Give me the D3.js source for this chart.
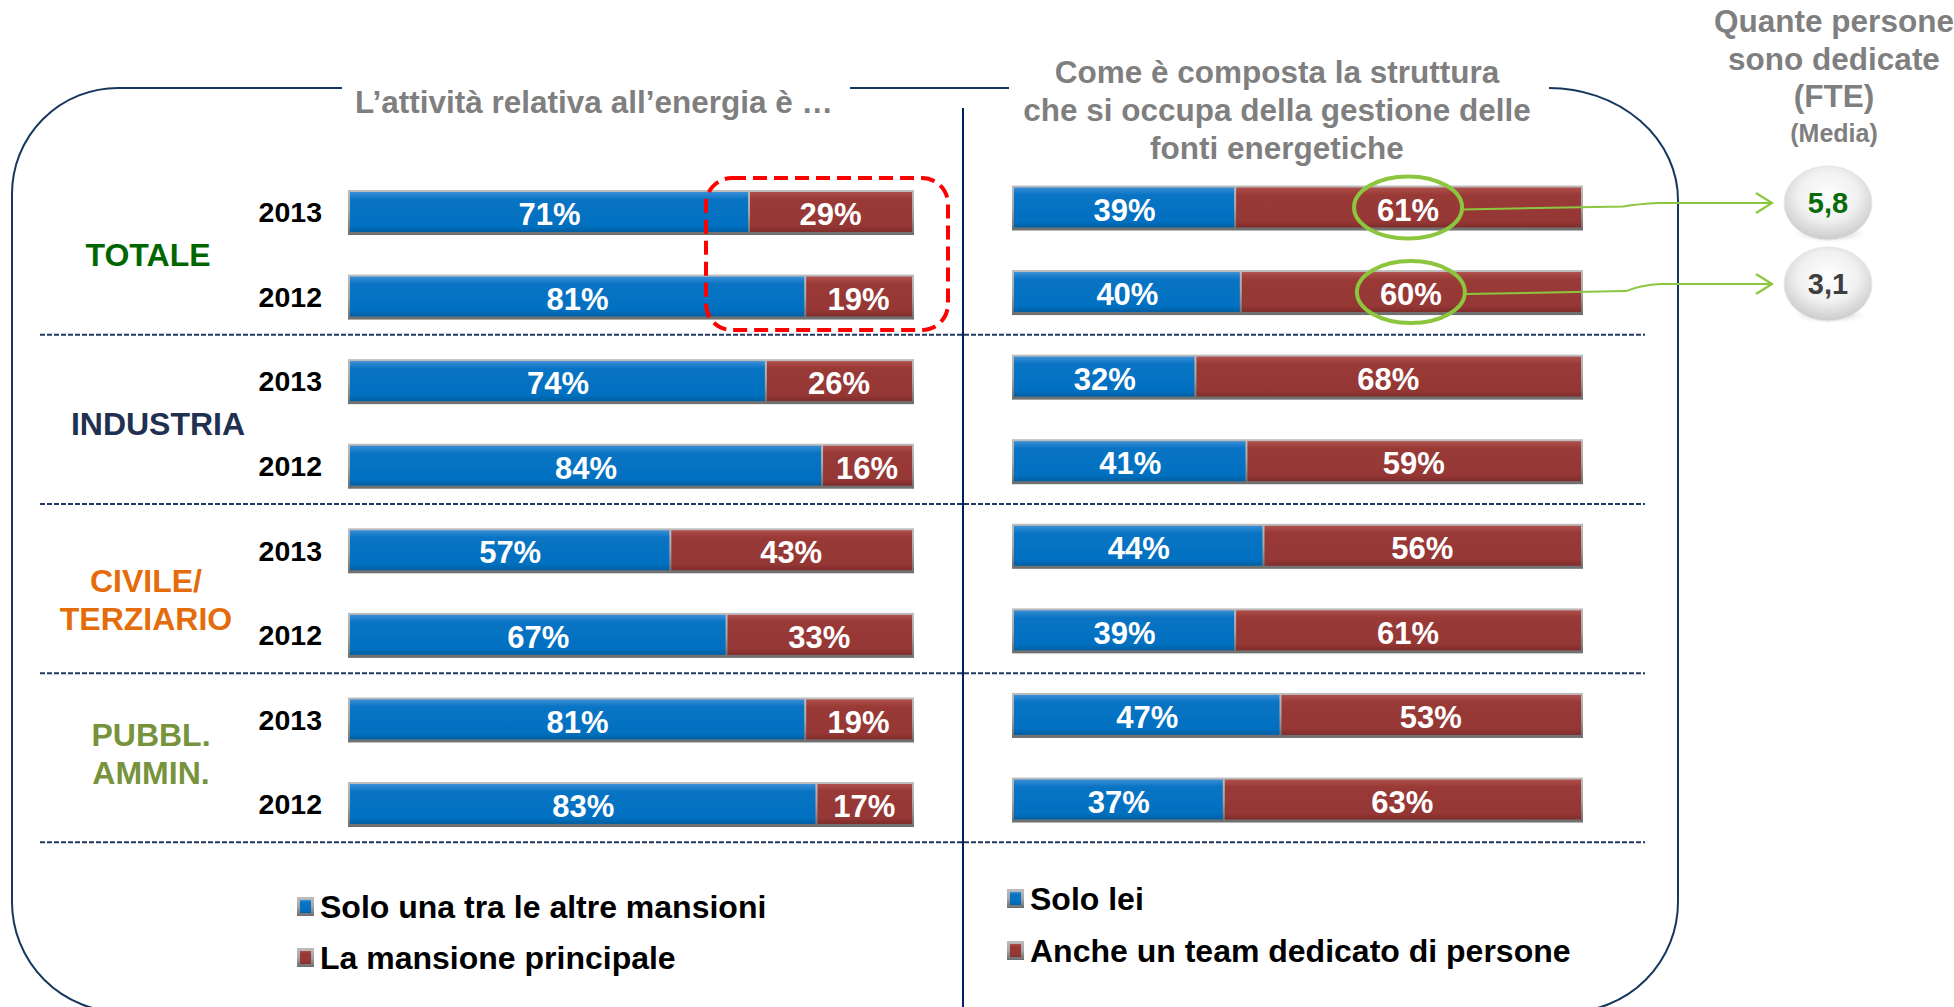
<!DOCTYPE html>
<html><head><meta charset="utf-8">
<script src="https://cdn.jsdelivr.net/npm/d3@7/dist/d3.min.js"></script>
<style>
html,body{margin:0;padding:0;background:#fff;}
svg{display:block;font-family:"Liberation Sans",Arial,sans-serif;font-weight:bold;}
</style></head>
<body>
<svg id="c" width="1954" height="1007"></svg>
<script>
// ---------- data ----------
const groups = ["TOTALE", "INDUSTRIA", "CIVILE/|TERZIARIO", "PUBBL.|AMMIN."];
const groupColors = ["#006600", "#1f3050", "#e46c0a", "#77933c"];
const years = ["2013", "2012"];
const leftBlue  = [71, 81, 74, 84, 57, 67, 81, 83];
const leftRed   = [29, 19, 26, 16, 43, 33, 19, 17];
const rightBlue = [39, 40, 32, 41, 44, 39, 47, 37];
const rightRed  = [61, 60, 68, 59, 56, 61, 53, 63];
const fteValues = ["5,8", "3,1"];
const fteColors = ["#0a6b0a", "#3f3f3f"];
const leftLegend  = ["Solo una tra le altre mansioni", "La mansione principale"];
const rightLegend = ["Solo lei", "Anche un team dedicato di persone"];
const leftTitle = "L\u2019attivit\u00e0 relativa all\u2019energia \u00e8 \u2026";
const rightTitle = ["Come \u00e8 composta la struttura", "che si occupa della gestione delle", "fonti energetiche"];
const fteTitle = ["Quante persone", "sono dedicate", "(FTE)"];
const fteSub = "(Media)";

// ---------- setup ----------
const svg = d3.select("#c");
const defs = svg.append("defs");
function grad(id, stops) {
  const g = defs.append("linearGradient").attr("id", id).attr("x1", 0).attr("y1", 0).attr("x2", 0).attr("y2", 1);
  stops.forEach(s => g.append("stop").attr("offset", s[0]).attr("stop-color", s[1]));
}
grad("gBlue", [[0, "#3a8fd6"], [0.18, "#0a74c4"], [0.85, "#0070c0"], [1, "#005fa3"]]);
grad("gRed", [[0, "#b0504d"], [0.18, "#993a37"], [0.85, "#953735"], [1, "#7e2d2b"]]);
grad("gBorder", [[0, "#bdbdbd"], [0.5, "#a6a6a6"], [1, "#6d6d6d"]]);
const rg = defs.append("radialGradient").attr("id", "gBall").attr("cx", "50%").attr("cy", "40%").attr("r", "62%");
rg.append("stop").attr("offset", 0).attr("stop-color", "#ffffff");
rg.append("stop").attr("offset", 0.55).attr("stop-color", "#f0f0f0");
rg.append("stop").attr("offset", 1).attr("stop-color", "#c8c8c8");
const sh = defs.append("radialGradient").attr("id", "gShadow");
sh.append("stop").attr("offset", 0).attr("stop-color", "#8a8a8a").attr("stop-opacity", 0.9);
sh.append("stop").attr("offset", 1).attr("stop-color", "#ffffff").attr("stop-opacity", 0);
const mk = defs.append("marker").attr("id", "arr").attr("viewBox", "0 0 24 24").attr("refX", 21).attr("refY", 12)
  .attr("markerWidth", 24).attr("markerHeight", 24).attr("markerUnits", "userSpaceOnUse").attr("orient", "auto");
mk.append("path").attr("d", "M5,2 L21,12 L5,22").attr("fill", "none").attr("stroke", "#8cc63f").attr("stroke-width", 2.2);

const rowKeys = d3.range(8).map(i => groups[Math.floor(i / 2)] + "-" + years[i % 2]);
const y = d3.scaleBand().domain(rowKeys).range([169.7, 846.3]);
const xL = d3.scaleLinear().domain([0, 100]).range([350, 912]);
const xR = d3.scaleLinear().domain([0, 100]).range([1014, 1581]);
const barH = 40;
const rightShift = -4.5;

// ---------- frame ----------
const navy = "#17375e";
const frame = svg.append("g").attr("fill", "none").attr("stroke", navy).attr("stroke-width", 2);
frame.append("path").attr("d", "M342,88 L118,88 A106,106 0 0 0 12,194 L12,902 A110,110 0 0 0 122,1012 L1568,1012 A110,110 0 0 0 1678,902 L1678,200 A129,112 0 0 0 1549,88 L1549,88");
frame.append("path").attr("d", "M850,88 L1009,88");
svg.append("line").attr("x1", 963).attr("x2", 963).attr("y1", 108).attr("y2", 1007)
  .attr("stroke", "#002060").attr("stroke-width", 2);

// dashed separators
const sepYs = [1, 3, 5, 7].map(i => y(rowKeys[i]) + y.bandwidth() - 4);
svg.selectAll("line.sep").data(sepYs).enter().append("line").attr("class", "sep")
  .attr("x1", 40).attr("x2", 1645).attr("y1", d => d).attr("y2", d => d)
  .attr("stroke", "#1f3864").attr("stroke-width", 2).attr("stroke-dasharray", "5,2");

// ---------- titles ----------
svg.append("text").attr("x", 594).attr("y", 113).attr("text-anchor", "middle")
  .attr("font-size", 31.5).attr("fill", "#7f7f7f").text(leftTitle);
svg.selectAll("text.rt").data(rightTitle).enter().append("text").attr("class", "rt")
  .attr("x", 1277).attr("y", (d, i) => 83 + i * 38).attr("text-anchor", "middle")
  .attr("font-size", 31.5).attr("fill", "#7f7f7f").text(d => d);
svg.selectAll("text.ft").data(fteTitle).enter().append("text").attr("class", "ft")
  .attr("x", 1834).attr("y", (d, i) => 32 + i * 37.5).attr("text-anchor", "middle")
  .attr("font-size", 31.5).attr("fill", "#7f7f7f").text(d => d);
svg.append("text").attr("x", 1834).attr("y", 142).attr("text-anchor", "middle")
  .attr("font-size", 25).attr("fill", "#7f7f7f").text(fteSub);

// ---------- group & year labels ----------
const gx = [148, 158, 146, 151];
const gdy = [0, 0, 7, -8];
groups.forEach((g, gi) => {
  const lines = g.split("|");
  const cy = (y(rowKeys[gi * 2]) + y(rowKeys[gi * 2 + 1])) / 2 + y.bandwidth() / 2 + gdy[gi];
  lines.forEach((ln, li) => {
    svg.append("text").attr("x", gx[gi]).attr("y", cy + (li - (lines.length - 1) / 2) * 37.5)
      .attr("dy", "0.36em").attr("text-anchor", "middle").attr("font-size", 32)
      .attr("fill", groupColors[gi]).text(ln);
  });
});
svg.selectAll("text.yr").data(rowKeys).enter().append("text").attr("class", "yr")
  .attr("x", 322).attr("y", d => y(d) + y.bandwidth() / 2).attr("dy", "0.36em")
  .attr("text-anchor", "end").attr("font-size", 28.5).attr("fill", "#000").text((d, i) => years[i % 2]);

// ---------- bars ----------
function drawBars(xs, blue, red, shift) {
  const g = svg.append("g");
  rowKeys.forEach((k, i) => {
    const top = y(k) + y.bandwidth() / 2 - barH / 2 + shift;
    const x0 = xs(0), xm = xs(blue[i]), x1 = xs(blue[i] + red[i]);
    g.append("rect").attr("x", x0 - 2).attr("y", top - 2).attr("width", x1 - x0 + 4).attr("height", barH + 5)
      .attr("fill", "url(#gBorder)");
    g.append("rect").attr("x", x0).attr("y", top).attr("width", xm - x0 - 1).attr("height", barH).attr("fill", "url(#gBlue)");
    g.append("rect").attr("x", xm + 1).attr("y", top).attr("width", x1 - xm - 1).attr("height", barH).attr("fill", "url(#gRed)");
    g.append("text").attr("x", (x0 + xm) / 2).attr("y", top + barH / 2 + 2).attr("dy", "0.36em")
      .attr("text-anchor", "middle").attr("font-size", 31).attr("fill", "#fff").text(blue[i] + "%");
    g.append("text").attr("x", (xm + x1) / 2).attr("y", top + barH / 2 + 2).attr("dy", "0.36em")
      .attr("text-anchor", "middle").attr("font-size", 31).attr("fill", "#fff").text(red[i] + "%");
  });
}
drawBars(xL, leftBlue, leftRed, 0);
drawBars(xR, rightBlue, rightRed, rightShift);

// ---------- red dashed highlight ----------
svg.append("rect").attr("x", 706).attr("y", 178).attr("width", 242).attr("height", 152)
  .attr("rx", 26).attr("ry", 26).attr("fill", "none").attr("stroke", "#ff0000")
  .attr("stroke-width", 4).attr("stroke-dasharray", "14,7");

// ---------- green circles, arrows, balls ----------
[0, 1].forEach(i => {
  const k = rowKeys[i];
  const cy = y(k) + y.bandwidth() / 2 + rightShift;
  const cx = (xR(rightBlue[i]) + xR(100)) / 2;
  svg.append("ellipse").attr("cx", cx).attr("cy", cy).attr("rx", 54).attr("ry", 31)
    .attr("fill", "none").attr("stroke", "#8cc63f").attr("stroke-width", 4);
  const by = [203, 284][i];
  svg.append("path").attr("d", `M${cx + 54},${cy + 2} L${cx + 215},${cy - 1} Q${cx + 230},${by + 1} ${cx + 250},${by} L1772,${by}`)
    .attr("fill", "none").attr("stroke", "#8cc63f").attr("stroke-width", 2).attr("marker-end", "url(#arr)");
  svg.append("ellipse").attr("cx", 1830).attr("cy", by + 31).attr("rx", 40).attr("ry", 9).attr("fill", "url(#gShadow)");
  svg.append("ellipse").attr("cx", 1828).attr("cy", by).attr("rx", 44).attr("ry", 37)
    .attr("fill", "url(#gBall)").attr("stroke", "#e6e6e6").attr("stroke-width", 1);
  svg.append("text").attr("x", 1828).attr("y", by).attr("dy", "0.36em").attr("text-anchor", "middle")
    .attr("font-size", 29).attr("fill", fteColors[i]).text(fteValues[i]);
});

// ---------- legends ----------
function legend(x, ys, labels, fills) {
  labels.forEach((l, i) => {
    svg.append("rect").attr("x", x).attr("y", ys[i] - 9).attr("width", 17).attr("height", 19).attr("fill", "url(#gBorder)");
    svg.append("rect").attr("x", x + 3).attr("y", ys[i] - 6).attr("width", 11).attr("height", 13).attr("fill", fills[i]);
    svg.append("text").attr("x", x + 23).attr("y", ys[i]).attr("dy", "0.36em").attr("font-size", 32)
      .attr("fill", "#000").text(l);
  });
}
legend(297, [906, 957], leftLegend, ["url(#gBlue)", "url(#gRed)"]);
legend(1007, [898, 950], rightLegend, ["url(#gBlue)", "url(#gRed)"]);
</script>
</body></html>
